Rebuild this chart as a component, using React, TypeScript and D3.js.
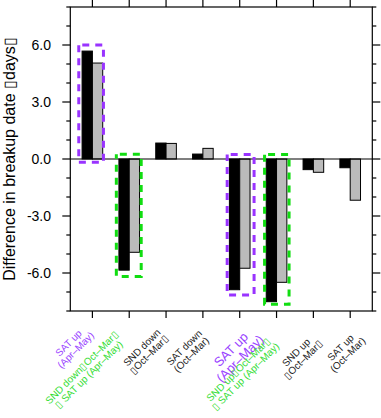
import React from 'react';
import * as d3 from 'd3';

const labelLine1 = ['SAT up', 'SND down\u25AFOct\u2013Mar\u25AF', 'SND down', 'SAT down', 'SAT up', 'SND up\u25AFOct\u2013Mar\u25AF', 'SND up', 'SAT up'];
const labelLine2 = ['(Apr\u2013May)', '\u25AF SAT up (Apr\u2013May)', '\u25AFOct\u2013Mar\u25AF', '(Oct\u2013Mar)', '(Apr\u2013May)', '\u25AF SAT up (Apr\u2013May)', '\u25AFOct\u2013Mar\u25AF', '(Oct\u2013Mar)'];
const labelGroup = ['purple', 'green', 'black', 'black', 'purple', 'green', 'black', 'black'];
const seriesBlack = [5.68, -5.85, 0.84, 0.26, -6.88, -7.51, -0.56, -0.46];
const seriesGray = [5.05, -4.91, 0.82, 0.56, -5.75, -6.49, -0.7, -2.17];
const yTicks = [-6, -3, 0, 3, 6];
const yTickLabels = ['-6.0', '-3.0', '0.0', '3.0', '6.0'];
const yMinor = [-8, -7, -5, -4, -2, -1, 1, 2, 4, 5, 7, 8];
const boxCategory = [0, 1, 4, 5];
const boxTop = [6.0, 0.25, 0.24, 0.24];
const boxBottom = [-0.17, -6.18, -7.16, -7.65];
const boxGroup = ['purple', 'green', 'purple', 'green'];
const yTitle = 'Difference in breakup date \u25AFdays\u25AF';

// layout (not data)
const boxLeftOff = [-0.37, -0.35, -0.34, -0.325];
const boxRightOff = [0.3, 0.325, 0.39, 0.34];
const labelDx = [-20.3, -44, -20.7, -15.2, -4.3, -34.7, -13.8, -6.1];
const labelDy = [29.5, 54, 34, 34, 37, 56, 39, 34.2];
const labelSize = [10, 10, 10, 10, 13, 10, 10, 10];

const W = 381;
const H = 418;
const L = 70.3, R = 372.3, T = 7, B = 311;
const barW = 0.28;

const boxColors: Record<string, string> = { purple: '#9933ff', green: '#11dd11' };
const textColors: Record<string, string> = { purple: '#9a44ff', green: '#33dd33', black: '#222222' };

export default function App() {
  const x = d3.scaleLinear().domain([-0.6, 7.6]).range([L, R]);
  const y = d3.scaleLinear().domain([-8, 8]).range([B, T]);
  const idx = d3.range(labelLine1.length);
  const font = '"Liberation Sans", Arial, Helvetica, sans-serif';

  return (
    <svg width={W} height={H} style={{ position: 'absolute', left: 0, top: 0, background: '#fff' }} fontFamily={font}>
      <rect x={0} y={0} width={W} height={H} fill="#fff" />
      {idx.map((i) => (
        <g key={'b' + i}>
          <rect
            x={x(i - barW)}
            y={y(Math.max(0, seriesBlack[i]))}
            width={x(i) - x(i - barW)}
            height={Math.abs(y(seriesBlack[i]) - y(0))}
            fill="#000"
            stroke="#000"
            strokeWidth={1}
          />
          <rect
            x={x(i)}
            y={y(Math.max(0, seriesGray[i]))}
            width={x(i + barW) - x(i)}
            height={Math.abs(y(seriesGray[i]) - y(0))}
            fill="#bbbbbb"
            stroke="#000"
            strokeWidth={1}
          />
        </g>
      ))}
      <line x1={L} x2={R} y1={y(0)} y2={y(0)} stroke="#000" strokeWidth={1.2} />
      {boxCategory.map((c, k) => {
        const x0 = x(c + boxLeftOff[k]);
        const x1 = x(c + boxRightOff[k]);
        const y0 = y(boxTop[k]);
        const y1 = y(boxBottom[k]);
        return (
          <path
            key={'box' + k}
            d={`M${x0},${y0}H${x1}V${y1}H${x0}Z`}
            fill="none"
            stroke={boxColors[boxGroup[k]]}
            strokeWidth={3}
            strokeDasharray="7 6"
            strokeDashoffset={9.5}
          />
        );
      })}
      <rect x={L} y={T} width={R - L} height={B - T} fill="none" stroke="#000" strokeWidth={1.2} />
      {yTicks.map((t) => (
        <g key={'yt' + t}>
          <line x1={L - 8} x2={L} y1={y(t)} y2={y(t)} stroke="#000" strokeWidth={1.2} />
          <line x1={R} x2={R + 8} y1={y(t)} y2={y(t)} stroke="#000" strokeWidth={1.2} />
        </g>
      ))}
      {yMinor.map((t) => (
        <g key={'ym' + t}>
          <line x1={L - 4} x2={L} y1={y(t)} y2={y(t)} stroke="#000" strokeWidth={1.2} />
          <line x1={R} x2={R + 4} y1={y(t)} y2={y(t)} stroke="#000" strokeWidth={1.2} />
        </g>
      ))}
      {yTicks.map((t, k) => (
        <text key={'yl' + t} x={51} y={y(t)} dy="0.36em" textAnchor="end" fontSize={14} fill="#000">
          {yTickLabels[k]}
        </text>
      ))}
      {idx.map((i) => (
        <g key={'xt' + i}>
          <line x1={x(i)} x2={x(i)} y1={T} y2={T - 7} stroke="#000" strokeWidth={1.2} />
          <line x1={x(i)} x2={x(i)} y1={B} y2={B + 7} stroke="#000" strokeWidth={1.2} />
        </g>
      ))}
      {idx.map((i) => {
        const cx = x(i) + labelDx[i];
        const cy = 317 + labelDy[i];
        const fs = labelSize[i];
        const sp = fs;
        const col = textColors[labelGroup[i]];
        return (
          <g key={'xl' + i} transform={`translate(${cx},${cy}) rotate(-45)`}>
            <text x={0} y={-sp / 2} dy="0.35em" textAnchor="middle" fontSize={fs} fill={col}>
              {labelLine1[i]}
            </text>
            <text x={0} y={sp / 2} dy="0.35em" textAnchor="middle" fontSize={fs} fill={col}>
              {labelLine2[i]}
            </text>
          </g>
        );
      })}
      <g transform={`translate(9,${(T + B) / 2}) rotate(-90)`}>
        <text textAnchor="middle" dy="0.35em" fontSize={16} fill="#000">
          {yTitle}
        </text>
      </g>
    </svg>
  );
}
